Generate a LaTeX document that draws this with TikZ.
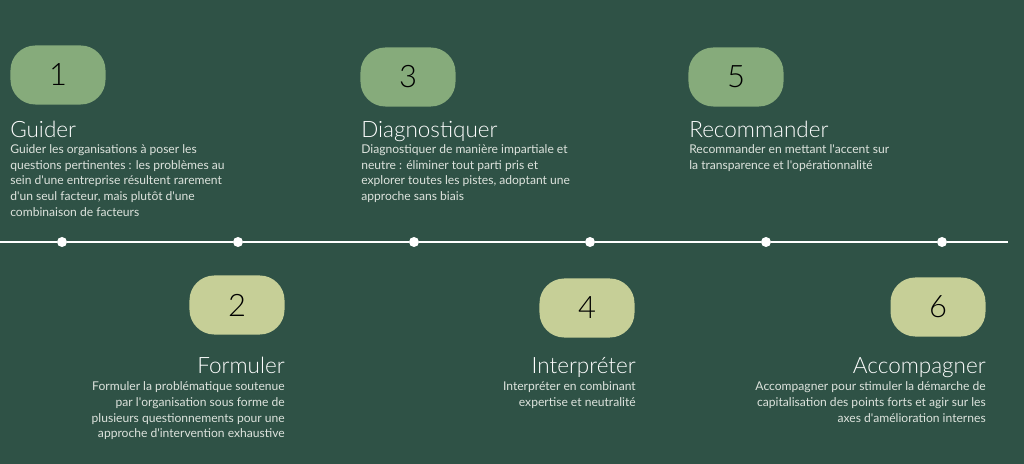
\documentclass[tikz,border=0pt]{standalone}
\usepackage{fontspec}
\setmainfont{Lato}
\newfontfamily\lightfont{Lato Light}
\usetikzlibrary{positioning,calc}
\definecolor{bgGreen}{HTML}{2F5246}
\definecolor{pillTop}{HTML}{86AB7B}
\definecolor{pillBot}{HTML}{C6CF97}
\definecolor{descGrey}{HTML}{DDE3DD}
\newcommand{\ap}{\textquotesingle}

\begin{document}
\begin{tikzpicture}[x=0.025cm,y=-0.025cm,
  pill/.style={rounded corners=0.62cm, minimum width=2.375cm, minimum height=1.475cm,
    inner sep=0pt, text=black, font=\lightfont\fontsize{22}{22}\selectfont},
  topPill/.style={pill, fill=pillTop},
  botPill/.style={pill, fill=pillBot},
  title/.style={inner sep=0pt, text=white, font=\lightfont\fontsize{16}{18}\selectfont},
  desc/.style={inner sep=0pt, text=descGrey, font=\fontsize{8.6}{11.1}\selectfont},
  dot/.style={circle, fill=white, minimum size=0.25cm, inner sep=0pt}]
  \fill[bgGreen] (0,0) rectangle (1024,464);
  \useasboundingbox (0,0) rectangle (1024,464);
  % timeline
  \coordinate (lineStart) at (0,242);
  \coordinate (lineEnd) at (1008,242);
  \node[dot] (s1) at (62,242) {};
  \node[dot] (s2) at (238,242) {};
  \node[dot] (s3) at (414,242) {};
  \node[dot] (s4) at (590,242) {};
  \node[dot] (s5) at (766,242) {};
  \node[dot] (s6) at (942,242) {};
  \draw[white, line width=1.1pt] (lineStart) -- (s1) -- (s2) -- (s3) -- (s4) -- (s5) -- (s6) -- (lineEnd);
  % steps above the line
  \node[topPill] (p1) at (58,75) {1};
  \node[topPill] (p3) at (408,77) {3};
  \node[topPill] (p5) at (736,77) {5};
  \node[title, anchor=base west] (t1) at (10,138) {Guider};
  \node[title, anchor=base west] (t3) at (361,138) {Diagnostiquer};
  \node[title, anchor=base west] (t5) at (689,138) {Recommander};
  \node[desc, align=left, below right=0.16cm and 0cm of t1.base west]
    {Guider les organisations à poser les\\questions pertinentes : les problèmes au\\sein d\ap une entreprise résultent rarement\\d\ap un seul facteur, mais plutôt d\ap une\\combinaison de facteurs};
  \node[desc, align=left, below right=0.16cm and 0cm of t3.base west]
    {Diagnostiquer de manière impartiale et\\neutre : éliminer tout parti pris et\\explorer toutes les pistes, adoptant une\\approche sans biais};
  \node[desc, align=left, below right=0.16cm and 0cm of t5.base west]
    {Recommander en mettant l\ap accent sur\\la transparence et l\ap opérationnalité};
  % steps below the line
  \node[botPill] (p2) at (237,305) {2};
  \node[botPill] (p4) at (587,308) {4};
  \node[botPill] (p6) at (938,307) {6};
  \node[title, anchor=base east] (t2) at (285,373) {Formuler};
  \node[title, anchor=base east] (t4) at (636,373) {Interpréter};
  \node[title, anchor=base east] (t6) at (986,373) {Accompagner};
  \node[desc, align=right, below left=0.22cm and 0cm of t2.base east]
    {Formuler la problématique soutenue\\par l\ap organisation sous forme de\\plusieurs questionnements pour une\\approche d\ap intervention exhaustive};
  \node[desc, align=right, below left=0.22cm and 0cm of t4.base east]
    {Interpréter en combinant\\expertise et neutralité};
  \node[desc, align=right, below left=0.22cm and 0cm of t6.base east]
    {Accompagner pour stimuler la démarche de\\capitalisation des points forts et agir sur les\\axes d\ap amélioration internes};
\end{tikzpicture}
\end{document}
